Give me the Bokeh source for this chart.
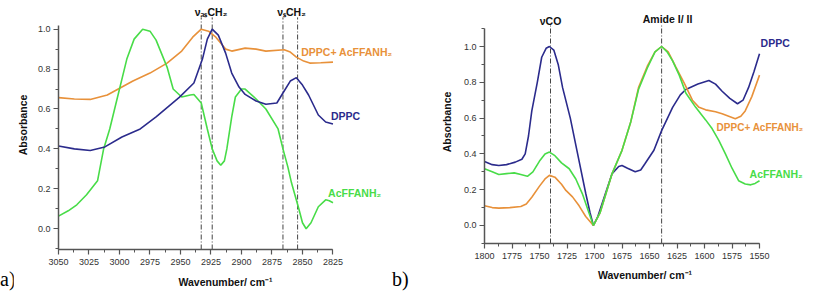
from bokeh.plotting import figure
from bokeh.models import Range1d, Label, SingleIntervalTicker, PrintfTickFormatter, Div
from bokeh.layouts import row, column
from bokeh.embed import file_html
from bokeh.resources import INLINE

# ---------------- data: panel a (CH2 stretching region) ----------------
a_dppc_w = [3050, 3037, 3024, 3012, 2998, 2983, 2970, 2951, 2939, 2932, 2928, 2924, 2919, 2913,
            2908, 2902, 2897, 2888, 2880, 2871, 2866, 2860, 2855, 2850, 2845, 2837, 2831, 2825]
a_dppc_v = [0.415, 0.40, 0.392, 0.41, 0.46, 0.50, 0.56, 0.658, 0.73, 0.85, 0.95, 1.0, 0.97, 0.88,
            0.78, 0.71, 0.673, 0.64, 0.624, 0.63, 0.68, 0.74, 0.757, 0.72, 0.67, 0.57, 0.535, 0.525]

a_mix_w = [3050, 3037, 3024, 3010, 2998, 2989, 2975, 2961, 2949, 2940, 2933, 2927, 2921, 2913,
           2908, 2897, 2888, 2880, 2865, 2860, 2855, 2849, 2844, 2835, 2825]
a_mix_v = [0.657, 0.650, 0.648, 0.67, 0.71, 0.74, 0.78, 0.83, 0.89, 0.96, 1.0, 0.99, 0.96, 0.90,
           0.89, 0.905, 0.90, 0.89, 0.897, 0.885, 0.86, 0.84, 0.83, 0.832, 0.835]

a_pep_w = [3050, 3042, 3035, 3027, 3018, 3013, 3008, 3004, 2994, 2988, 2981, 2975, 2970, 2961,
           2956, 2949, 2942, 2939, 2933, 2928, 2924, 2920, 2917, 2914, 2912, 2908, 2905, 2900,
           2897, 2888, 2880, 2870, 2866, 2862, 2859, 2853, 2850, 2847, 2843, 2837, 2831, 2828, 2825]
a_pep_v = [0.063, 0.09, 0.12, 0.17, 0.24, 0.40, 0.50, 0.60, 0.85, 0.95, 1.0, 0.99, 0.945, 0.81,
           0.70, 0.66, 0.67, 0.673, 0.63, 0.50, 0.40, 0.34, 0.318, 0.34, 0.40, 0.56, 0.66, 0.70,
           0.70, 0.65, 0.60, 0.50, 0.40, 0.31, 0.23, 0.10, 0.03, 0.0, 0.03, 0.11, 0.145, 0.14, 0.13]

a_bands = [2933, 2924, 2866, 2854]

# ---------------- data: panel b (C=O / amide region) ----------------
b_dppc_w = [1800, 1793, 1787, 1780, 1772, 1766, 1763, 1760, 1757, 1752, 1748, 1744, 1741, 1737,
            1733, 1729, 1722, 1716, 1708, 1704, 1701, 1697, 1690, 1684, 1678, 1675, 1670, 1663,
            1658, 1654, 1646, 1639, 1629, 1622, 1617, 1606, 1596, 1590, 1584, 1577, 1570, 1565,
            1560, 1555, 1550]
b_dppc_v = [0.357, 0.34, 0.335, 0.34, 0.354, 0.37, 0.40, 0.50, 0.64, 0.80, 0.94, 0.99, 1.0, 0.98,
            0.90, 0.77, 0.60, 0.42, 0.18, 0.07, 0.0, 0.05, 0.18, 0.29, 0.33, 0.335, 0.32, 0.30,
            0.31, 0.346, 0.42, 0.53, 0.66, 0.73, 0.76, 0.79, 0.81, 0.79, 0.75, 0.71, 0.68, 0.70,
            0.77, 0.86, 0.96]

b_mix_w = [1800, 1793, 1787, 1777, 1767, 1762, 1757, 1750, 1745, 1741, 1736, 1730, 1726, 1720,
           1714, 1708, 1701, 1695, 1684, 1675, 1667, 1660, 1652, 1645, 1639, 1633, 1626, 1618,
           1611, 1605, 1599, 1590, 1584, 1578, 1572, 1567, 1563, 1557, 1550]
b_mix_v = [0.11, 0.10, 0.097, 0.10, 0.106, 0.12, 0.158, 0.22, 0.26, 0.28, 0.27, 0.23, 0.196, 0.16,
           0.11, 0.05, 0.0, 0.07, 0.29, 0.42, 0.58, 0.77, 0.89, 0.97, 1.0, 0.97, 0.885, 0.79,
           0.70, 0.66, 0.646, 0.635, 0.624, 0.61, 0.596, 0.61, 0.64, 0.72, 0.84]

b_pep_w = [1800, 1793, 1787, 1780, 1773, 1767, 1761, 1756, 1750, 1745, 1741, 1736, 1730, 1723,
           1717, 1711, 1705, 1701, 1695, 1684, 1675, 1667, 1660, 1652, 1645, 1639, 1634, 1629,
           1623, 1617, 1608, 1599, 1593, 1587, 1581, 1575, 1569, 1563, 1558, 1554, 1550]
b_pep_v = [0.317, 0.30, 0.285, 0.29, 0.294, 0.285, 0.275, 0.30, 0.36, 0.40, 0.41, 0.39, 0.35, 0.317,
           0.26, 0.177, 0.07, 0.0, 0.07, 0.29, 0.42, 0.58, 0.76, 0.88, 0.97, 1.0, 0.97, 0.92,
           0.84, 0.74, 0.66, 0.59, 0.54, 0.475, 0.40, 0.32, 0.25, 0.232, 0.227, 0.235, 0.25]

b_bands = [1740, 1639]

# ---------------- style ----------------
BLUE = "#2b2b8c"
ORANGE = "#e8913a"
GREEN = "#48dc48"
FONT = "Liberation Sans"
H = 290


def style(p, xbounds, ybounds, xlabel_standoff, ylabel_standoff):
    p.grid.visible = False
    p.outline_line_color = None
    p.background_fill_color = "white"
    p.border_fill_color = "white"
    for ax in (p.xaxis[0], p.yaxis[0]):
        ax.axis_line_color = "#555555"
        ax.axis_line_width = 1.5
        ax.major_tick_line_color = "#555555"
        ax.minor_tick_line_color = "#555555"
        ax.major_tick_line_width = 1.2
        ax.major_tick_in = 0
        ax.major_tick_out = 5
        ax.minor_tick_in = 0
        ax.minor_tick_out = 3
        ax.major_label_text_font = FONT
        ax.major_label_text_font_size = "9px"
        ax.major_label_text_color = "#333333"
        ax.axis_label_text_font = FONT
        ax.axis_label_text_font_style = "bold"
        ax.axis_label_text_font_size = "10.5px"
        ax.axis_label_text_color = "#111111"
    p.xaxis.axis_label = "Wavenumber/ cm⁻¹"
    p.yaxis.axis_label = "Absorbance"
    p.xaxis.ticker = SingleIntervalTicker(interval=25, num_minor_ticks=2)
    p.yaxis.ticker = SingleIntervalTicker(interval=0.2, num_minor_ticks=2)
    p.yaxis.formatter = PrintfTickFormatter(format="%.1f")
    p.xaxis.bounds = xbounds
    p.yaxis.bounds = ybounds
    p.xaxis.major_label_standoff = 4
    p.yaxis.major_label_standoff = 3
    p.xaxis.axis_label_standoff = xlabel_standoff
    p.yaxis.axis_label_standoff = ylabel_standoff


def add_label(p, x, y, text, color, size="10.5px", align="left"):
    p.add_layout(Label(x=x, y=y, text=text, text_color=color, text_font=FONT,
                       text_font_size=size, text_font_style="bold", text_align=align,
                       text_baseline="middle"))


def tag(t, w):
    return Div(text=('<div style="position:relative;top:269px;left:0px;font-family:\'Liberation Serif\';'
                     'font-size:20px;line-height:20px;color:#000;white-space:nowrap;">%s</div>' % t),
               width=w, height=H, margin=(0, 0, 0, 0))


# ---------------- panel a ----------------
pa = figure(width=379, height=H, output_backend="svg", toolbar_location=None,
            x_range=Range1d(3050, 2776.2), y_range=Range1d(-0.104, 1.1436),
            min_border_left=42, min_border_right=0, min_border_top=0, min_border_bottom=38)
style(pa, (2825, 3050), (-0.104, 1.02), 8, 6)
pa.segment(x0=a_bands, x1=a_bands, y0=[-0.104] * len(a_bands), y1=[1.059] * len(a_bands),
           line_color="#444444", line_width=1, line_dash="5 2 1 2")
pa.line(a_mix_w, a_mix_v, line_color=ORANGE, line_width=1.6)
pa.line(a_pep_w, a_pep_v, line_color=GREEN, line_width=1.6)
pa.line(a_dppc_w, a_dppc_v, line_color=BLUE, line_width=1.6)
add_label(pa, 2925, 1.084, "νₐₛCH₂", "#111111", align="center")
add_label(pa, 2859, 1.084, "νₛCH₂", "#111111", align="center")
add_label(pa, 2851, 0.886, "DPPC+ AcFFANH₂", ORANGE)
add_label(pa, 2826.6, 0.564, "DPPC", BLUE)
add_label(pa, 2829, 0.178, "AcFFANH₂", GREEN)

# ---------------- panel b ----------------
pb = figure(width=393, height=H, output_backend="svg", toolbar_location=None,
            x_range=Range1d(1800, 1508.2), y_range=Range1d(-0.1006, 1.257),
            min_border_left=72, min_border_right=0, min_border_top=0, min_border_bottom=47)
style(pb, (1550, 1800), (-0.1006, 1.1), 7, 8)
pb.segment(x0=b_bands, x1=b_bands, y0=[-0.1006] * len(b_bands), y1=[1.117] * len(b_bands),
           line_color="#444444", line_width=1, line_dash="5 2 1 2")
pb.line(b_dppc_w, b_dppc_v, line_color=BLUE, line_width=1.6)
pb.line(b_mix_w, b_mix_v, line_color=ORANGE, line_width=1.6)
pb.line(b_pep_w, b_pep_v, line_color=GREEN, line_width=1.6)
add_label(pb, 1740, 1.145, "νCO", "#111111", align="center")
add_label(pb, 1633.6, 1.156, "Amide I/ II", "#111111", align="center")
add_label(pb, 1549, 1.017, "DPPC", BLUE)
add_label(pb, 1589, 0.547, "DPPC+ AcFFANH₂", ORANGE, size="10px")
add_label(pb, 1559, 0.29, "AcFFANH₂", GREEN)

layout = row(tag("a)", 13), column(pa), tag("b)", 20), column(pb))
open("out.html", "w").write(file_html(layout, INLINE))
